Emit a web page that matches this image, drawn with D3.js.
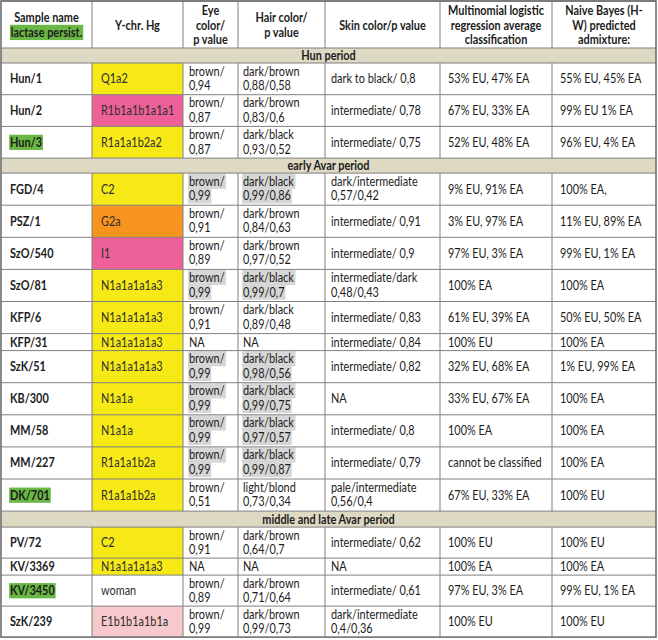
<!DOCTYPE html>
<html>
<head>
<meta charset="utf-8">
<script src="https://cdn.jsdelivr.net/npm/d3@7"></script>
<style>
body { margin: 0; background: #fff; }
svg text { font-family: Lato, "Open Sans", sans-serif; fill: #1c1c1c; }
</style>
</head>
<body>
<div id="tableDiv"></div>
<script>
var periods = ["Hun period", "early Avar period", "middle and late Avar period"];
var samples = ["Hun/1", "Hun/2", "Hun/3", "FGD/4", "PSZ/1", "SzO/540", "SzO/81", "KFP/6", "KFP/31",
    "SzK/51", "KB/300", "MM/58", "MM/227", "DK/701", "PV/72", "KV/3369", "KV/3450", "SzK/239"];
var samplePeriod = [0, 0, 0, 1, 1, 1, 1, 1, 1, 1, 1, 1, 1, 1, 2, 2, 2, 2];
var lactasePersist = ["Hun/3", "DK/701", "KV/3450"];
var haplogroups = ["Q1a2", "R1b1a1b1a1a1", "R1a1a1b2a2", "C2", "G2a", "I1", "N1a1a1a1a3", "N1a1a1a1a3", "N1a1a1a1a3",
    "N1a1a1a1a3", "N1a1a", "N1a1a", "R1a1a1b2a", "R1a1a1b2a", "C2", "N1a1a1a1a3", "woman", "E1b1b1a1b1a"];
var hgGroup = ["yellow", "pink", "yellow", "yellow", "orange", "pink", "yellow", "yellow", "yellow",
    "yellow", "yellow", "yellow", "yellow", "yellow", "yellow", "yellow", "none", "lightpink"];
var eyeColor = ["brown", "brown", "brown", "brown", "brown", "brown", "brown", "brown", "NA",
    "brown", "brown", "brown", "brown", "brown", "brown", "NA", "brown", "brown"];
var eyeP = ["0,94", "0,87", "0,87", "0,99", "0,91", "0,89", "0,99", "0,91", "",
    "0,99", "0,99", "0,99", "0,99", "0,51", "0,91", "", "0,89", "0,99"];
var hairColor = ["dark/brown", "dark/brown", "dark/black", "dark/black", "dark/brown", "dark/brown", "dark/black", "dark/black", "NA",
    "dark/black", "dark/black", "dark/black", "dark/black", "light/blond", "dark/brown", "NA", "dark/brown", "dark/brown"];
var hairP = ["0,88/0,58", "0,83/0,6", "0,93/0,52", "0,99/0,86", "0,84/0,63", "0,97/0,52", "0,99/0,7", "0,89/0,48", "",
    "0,98/0,56", "0,99/0,75", "0,97/0,57", "0,99/0,87", "0,73/0,34", "0,64/0,7", "", "0,71/0,64", "0,99/0,73"];
var greyMarked = ["FGD/4", "SzO/81", "SzK/51", "KB/300", "MM/58", "MM/227"];
var skinColor = ["dark to black", "intermediate", "intermediate", "dark/intermediate", "intermediate", "intermediate",
    "intermediate/dark", "intermediate", "intermediate", "intermediate", "NA", "intermediate", "intermediate",
    "pale/intermediate", "intermediate", "NA", "intermediate", "dark/intermediate"];
var skinP = ["0,8", "0,78", "0,75", "0,57/0,42", "0,91", "0,9", "0,48/0,43", "0,83", "0,84", "0,82", "", "0,8", "0,79",
    "0,56/0,4", "0,62", "", "0,61", "0,4/0,36"];
var mlrClass = ["53% EU, 47% EA", "67% EU, 33% EA", "52% EU, 48% EA", "9% EU, 91% EA", "3% EU, 97% EA", "97% EU, 3% EA",
    "100% EA", "61% EU, 39% EA", "100% EU", "32% EU, 68% EA", "33% EU, 67% EA", "100% EA", "cannot be classified",
    "67% EU, 33% EA", "100% EU", "100% EA", "97% EU, 3% EA", "100% EU"];
var nbAdmixture = ["55% EU, 45% EA", "99% EU 1% EA", "96% EU, 4% EA", "100% EA,", "11% EU, 89% EA", "99% EU, 1% EA",
    "100% EA", "50% EU, 50% EA", "100% EA", "1% EU, 99% EA", "100% EA", "100% EA", "100% EA",
    "100% EU", "100% EU", "100% EA", "99% EU, 1% EA", "100% EU"];
var headers = [["Sample name", "lactase persist."], ["Y-chr. Hg"], ["Eye", "color/", "p value"], ["Hair color/", "p value"],
    ["Skin color/p value"], ["Multinomial logistic", "regression average", "classification"],
    ["Naive Bayes (H-", "W) predicted", "admixture:"]];

// ---- layout ----
const canvas = { width: 658, height: 640 };
const colKeys = ["name", "hg", "eye", "hair", "skin", "mlr", "nb"];
const colEdges = [1, 92, 183, 238, 325, 440, 552, 656];
const x = d3.scaleOrdinal().domain(colKeys).range(colEdges.slice(0, 7));
const xEnd = d3.scaleOrdinal().domain(colKeys).range(colEdges.slice(1));
const cellFill = d3.scaleOrdinal()
    .domain(["yellow", "pink", "orange", "lightpink", "none"])
    .range(["#f6e916", "#ee6198", "#f7931f", "#f8c9cc", "#ffffff"]);
const lineH = 14.6, fontSize = 13, squeeze = 0.84;   // squeeze: narrower glyphs like the original
// row heights per period (two-line rows / single "NA" rows)
const rowH = [31.7, 32.1, 31], shortH = 17;

// build row list: header, period bands, sample rows
var rows = [{ type: "header", h: 47 }];
samples.forEach(function(s, i) {
    if (i === 0 || samplePeriod[i] !== samplePeriod[i - 1]) {
        rows.push({ type: "band", h: samplePeriod[i] === 2 ? 16 : 15, text: periods[samplePeriod[i]] });
    }
    rows.push({ type: "sample", i: i, h: eyeColor[i] === "NA" ? shortH : rowH[samplePeriod[i]] });
});
var yTop = 1;
rows.forEach(function(r) { r.y = yTop; yTop += r.h; });
const tableBottom = yTop;

var svg = d3.select("#tableDiv").append("svg")
    .attr("width", canvas.width)
    .attr("height", canvas.height);

var gFill = svg.append("g");
var gText = svg.append("g");
var gGrid = svg.append("g");

// add text lines; mark = highlight colour behind the text (or null)
function addLines(lines, x0, y0, anchor, bold, mark, color) {
    lines.forEach(function(t, k) {
        var g = gText.append("g")
            .attr("transform", "translate(" + x0 + "," + (y0 + k * lineH) + ") scale(" + squeeze + ",1)");
        var tx = g.append("text")
            .attr("text-anchor", anchor)
            .style("font-size", fontSize + "px")
            .style("font-weight", bold ? "bold" : "normal")
            .text(t);
        if (color) tx.style("fill", color);
        var m = typeof mark === "function" ? mark(k) : mark;
        if (m && t !== "") {
            var bb = tx.node().getBBox();
            g.insert("rect", "text")
                .attr("x", bb.x - 1)
                .attr("y", bb.y + 1)
                .attr("width", bb.width + 2)
                .attr("height", bb.height - 1)
                .style("fill", m);
        }
    });
}

rows.forEach(function(r) {
    if (r.type === "header") {
        colKeys.forEach(function(k, c) {
            var lines = headers[c];
            var cx = (x(k) + xEnd(k)) / 2;
            var y0 = r.y + r.h / 2 - (lines.length - 1) * lineH / 2 + 5;
            addLines(lines, cx, y0, "middle", true, c === 0 ? function(j) { return j === 1 ? "#6ab745" : null; } : null);
        });
    } else if (r.type === "band") {
        gFill.append("rect")
            .attr("x", colEdges[0]).attr("y", r.y)
            .attr("width", colEdges[7] - colEdges[0]).attr("height", r.h)
            .style("fill", "#ddd9c3");
        addLines([r.text], (colEdges[0] + colEdges[7]) / 2, r.y + r.h / 2 + 4.5, "middle", true, null);
    } else {
        var i = r.i;
        var mid = r.y + r.h / 2 + 4.5;
        var top = r.y + 12.5;
        var grey = greyMarked.indexOf(samples[i]) >= 0 ? "#d6d6d6" : null;
        gFill.append("rect")
            .attr("x", x("hg")).attr("y", r.y)
            .attr("width", xEnd("hg") - x("hg")).attr("height", r.h)
            .style("fill", cellFill(hgGroup[i]));
        addLines([samples[i]], x("name") + 9, mid, "start", true,
            lactasePersist.indexOf(samples[i]) >= 0 ? "#6ab745" : null);
        addLines([haplogroups[i]], x("hg") + 9, mid, "start", false, null, "#2e2e2e");
        if (eyeColor[i] === "NA") {
            addLines(["NA"], x("eye") + 6, mid, "start", false, null);
            addLines(["NA"], x("hair") + 5, mid, "start", false, null);
        } else {
            addLines([eyeColor[i] + "/", eyeP[i]], x("eye") + 6, top, "start", false, grey);
            addLines([hairColor[i], hairP[i]], x("hair") + 5, top, "start", false, grey);
        }
        if (skinColor[i].indexOf("/") >= 0) {
            addLines([skinColor[i], skinP[i]], x("skin") + 6, top, "start", false, null);
        } else {
            addLines([skinP[i] === "" ? skinColor[i] : skinColor[i] + "/ " + skinP[i]], x("skin") + 6, mid, "start", false, null);
        }
        addLines([mlrClass[i]], x("mlr") + 8, mid, "start", false, null);
        addLines([nbAdmixture[i]], x("nb") + 8, mid, "start", false, null);
    }
});

// grid lines
rows.forEach(function(r) {
    gGrid.append("line")
        .attr("x1", colEdges[0]).attr("x2", colEdges[7])
        .attr("y1", r.y).attr("y2", r.y)
        .style("stroke", "#808080").style("stroke-width", 1);
    if (r.type !== "band") {
        colEdges.slice(1, 7).forEach(function(cx) {
            gGrid.append("line")
                .attr("x1", cx).attr("x2", cx)
                .attr("y1", r.y).attr("y2", r.y + r.h)
                .style("stroke", "#808080").style("stroke-width", 1);
        });
    }
});
gGrid.append("rect")
    .attr("x", colEdges[0]).attr("y", 1)
    .attr("width", colEdges[7] - colEdges[0]).attr("height", tableBottom - 1)
    .style("fill", "none").style("stroke", "#666666").style("stroke-width", 1.5);
</script>
</body>
</html>
